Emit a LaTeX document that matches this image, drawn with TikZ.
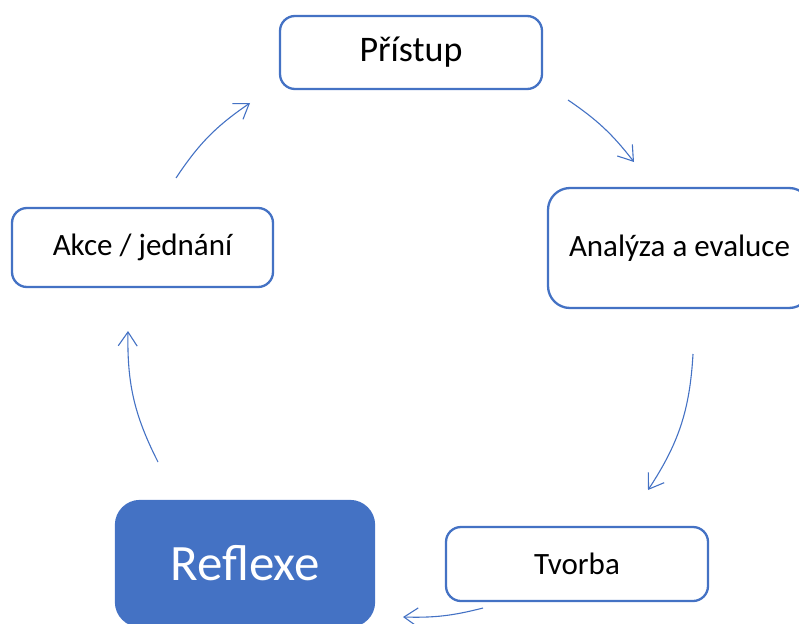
\documentclass[tikz,border=0pt]{standalone}
\usepackage{fontspec}
\setmainfont{Carlito}
\usetikzlibrary{arrows.meta}
\definecolor{accent}{HTML}{4472C4}
\begin{document}
\begin{tikzpicture}[x=1pt,y=1pt,
  stage/.style={draw=accent, line width=2.3pt, rounded corners=15pt, fill=white,
    text=black, inner sep=0pt, font=\fontsize{31}{36}\selectfont},
  cyc/.style={draw=accent, line width=1.1pt, -{Straight Barb[length=14pt,width=19pt]}}]
\useasboundingbox (0,0) rectangle (799,-623);
\clip (0,0) rectangle (799,-623);

% the five stages of the cycle
\node[stage, minimum width=262pt, minimum height=73pt, font=\fontsize{36}{40}\selectfont]
  (pristup) at (411,-52.5) {Přístup};
\node[stage, minimum width=263pt, minimum height=120pt, rounded corners=22pt]
  (analyza) at (679.5,-248) {Analýza a evaluce};
\node[stage, minimum width=262pt, minimum height=74pt]
  (tvorba) at (577,-564) {Tvorba};
\node[stage, minimum width=258pt, minimum height=125pt, rounded corners=24pt,
  fill=accent, text=white, font=\fontsize{51}{56}\selectfont]
  (reflexe) at (245,-563.5) {Reflexe};
\node[stage, minimum width=261pt, minimum height=79pt]
  (akce) at (142.5,-247.5) {Akce / jednání};

% ends of the curved arrows between the stages
\coordinate (a1s) at (568,-100);  \coordinate (a1e) at (634,-162);
\coordinate (a2s) at (693,-354);  \coordinate (a2e) at (648,-490);
\coordinate (a3s) at (483,-608);  \coordinate (a3e) at (403,-617);
\coordinate (a4s) at (158,-462);  \coordinate (a4e) at (128,-331);
\coordinate (a5s) at (176,-178);  \coordinate (a5e) at (250,-103);

\draw[cyc] (a1s) to[bend left=9]  (a1e);
\draw[cyc] (a2s) to[bend left=15] (a2e);
\draw[cyc] (a3s) to[bend left=8]  (a3e);
\draw[cyc] (a4s) to[bend left=14] (a4e);
\draw[cyc] (a5s) to[bend left=11] (a5e);
\end{tikzpicture}
\end{document}
